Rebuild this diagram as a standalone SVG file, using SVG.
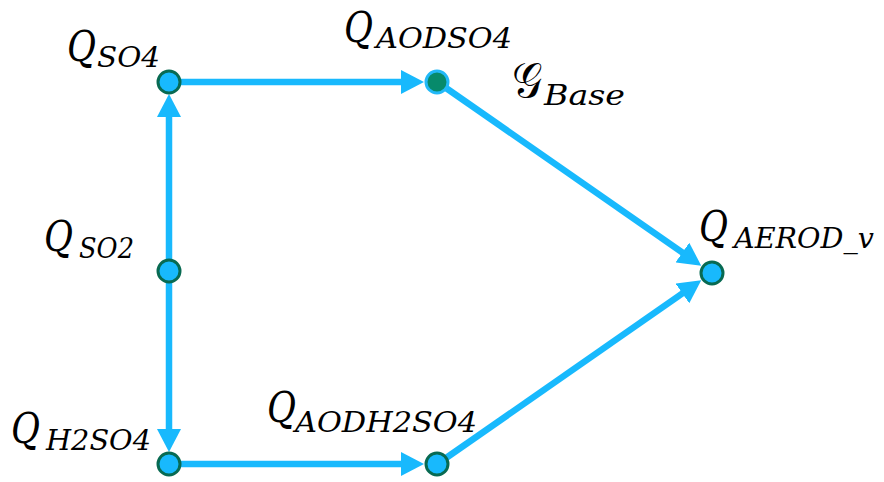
<svg xmlns="http://www.w3.org/2000/svg" width="884" height="482" viewBox="0 0 884 482">
<style>
.edge{stroke:#18b9fd;stroke-width:6.5;fill:none}
.node{fill:#18b9fd;stroke:#086a52;stroke-width:3}
.nodeB{fill:#078a6b;stroke:#22b9f8;stroke-width:3}
.lbl{font-family:"DejaVu Serif","Liberation Serif",serif;font-style:italic;fill:#000}
.big{font-size:42px}
.script{font-size:48px;font-style:normal}
.sub{font-size:27px}
</style>
<defs>
<marker id="ah" markerUnits="userSpaceOnUse" markerWidth="24" markerHeight="24" refX="11" refY="12" orient="auto">
<path d="M0,0 L23,12 L0,24 z" fill="#18b9fd"/>
</marker>
</defs>
<rect width="884" height="482" fill="#fff"/>
<g id="connectors">
<line class="edge" x1="169" y1="260" x2="169" y2="106" marker-end="url(#ah)"/>
<line class="edge" x1="169" y1="282" x2="169" y2="440" marker-end="url(#ah)"/>
<line class="edge" x1="180" y1="82" x2="412" y2="82" marker-end="url(#ah)"/>
<line class="edge" x1="180" y1="464" x2="412" y2="464" marker-end="url(#ah)"/>
<line class="edge" x1="446" y1="88" x2="691.4" y2="258.8" marker-end="url(#ah)"/>
<line class="edge" x1="446" y1="458" x2="691.4" y2="287.2" marker-end="url(#ah)"/>
</g>
<g id="n_SO4">
<circle class="node" cx="169" cy="82" r="11"/>
<text class="lbl"><tspan class="big" x="67" y="61" textLength="29" lengthAdjust="spacingAndGlyphs">Q</tspan><tspan class="sub" x="97" y="67" textLength="63" lengthAdjust="spacingAndGlyphs">SO4</tspan></text>
</g>
<g id="n_AODSO4">
<circle class="nodeB" cx="437" cy="82" r="11"/>
<text class="lbl"><tspan class="big" x="344" y="42" textLength="29" lengthAdjust="spacingAndGlyphs">Q</tspan><tspan class="sub" x="376" y="48" textLength="136" lengthAdjust="spacingAndGlyphs">AODSO4</tspan></text>
</g>
<g id="n_Base">
<text class="lbl"><tspan class="script" x="512" y="97" textLength="30" lengthAdjust="spacingAndGlyphs">𝒢</tspan><tspan class="sub" x="544" y="105" textLength="81" lengthAdjust="spacingAndGlyphs">Base</tspan></text>
</g>
<g id="n_SO2">
<circle class="node" cx="169" cy="271" r="11"/>
<text class="lbl"><tspan class="big" x="44" y="251" textLength="29" lengthAdjust="spacingAndGlyphs">Q</tspan><tspan class="sub" x="79" y="258" textLength="55" lengthAdjust="spacingAndGlyphs">SO2</tspan></text>
</g>
<g id="n_H2SO4">
<circle class="node" cx="169" cy="464" r="11"/>
<text class="lbl"><tspan class="big" x="11" y="443" textLength="29" lengthAdjust="spacingAndGlyphs">Q</tspan><tspan class="sub" x="46" y="450" textLength="105" lengthAdjust="spacingAndGlyphs">H2SO4</tspan></text>
</g>
<g id="n_AODH2SO4">
<circle class="node" cx="437" cy="464" r="11"/>
<text class="lbl"><tspan class="big" x="267" y="422" textLength="29" lengthAdjust="spacingAndGlyphs">Q</tspan><tspan class="sub" x="295" y="432" textLength="182" lengthAdjust="spacingAndGlyphs">AODH2SO4</tspan></text>
</g>
<g id="n_AEROD">
<circle class="node" cx="712" cy="273" r="11"/>
<text class="lbl"><tspan class="big" x="699" y="241" textLength="29" lengthAdjust="spacingAndGlyphs">Q</tspan><tspan class="sub" x="734" y="248" textLength="140" lengthAdjust="spacingAndGlyphs">AEROD_v</tspan></text>
</g>
</svg>
